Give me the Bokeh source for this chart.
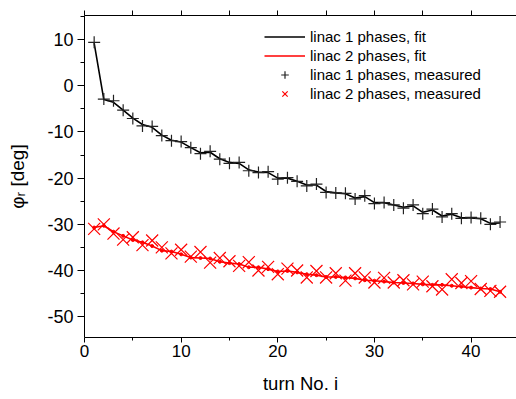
from bokeh.plotting import figure
from bokeh.models import Range1d, LinearAxis, FixedTicker, Legend, LegendItem, ColumnDataSource
from bokeh.embed import file_html
from bokeh.resources import INLINE

turns = [1, 2, 3, 4, 5, 6, 7, 8, 9, 10, 11, 12, 13, 14, 15, 16, 17, 18, 19, 20, 21, 22,
         23, 24, 25, 26, 27, 28, 29, 30, 31, 32, 33, 34, 35, 36, 37, 38, 39, 40, 41, 42, 43]

linac1_measured = [9.4, -2.9, -3.25, -5.3, -7.1, -8.7, -8.8, -10.8, -11.9, -12.1,
                   -13.4, -14.7, -14.2, -15.9, -16.8, -16.6, -18.4, -18.8, -18.6, -20.2,
                   -19.9, -20.7, -21.7, -21.3, -23.1, -23.2, -23.3, -24.5, -23.8, -25.5,
                   -25.3, -25.8, -26.5, -25.8, -27.7, -26.7, -28.4, -27.7, -28.7, -28.5,
                   -28.7, -30.0, -29.5]
linac1_fit = [9.2, -3.0, -3.6, -5.3, -7.0, -8.4, -9.0, -10.7, -11.8, -12.2,
              -13.4, -14.5, -14.4, -15.8, -16.6, -16.8, -18.2, -18.7, -18.8, -20.0,
              -20.0, -20.7, -21.5, -21.5, -22.9, -23.2, -23.4, -24.3, -24.0, -25.3,
              -25.3, -25.8, -26.3, -26.0, -27.4, -26.9, -28.2, -27.8, -28.6, -28.6,
              -28.8, -29.8, -29.7]
linac2_measured = [-31.0, -30.0, -32.0, -33.3, -32.8, -34.5, -33.5, -35.0, -36.3, -35.5,
                   -37.0, -36.0, -38.3, -37.3, -38.0, -39.0, -38.2, -40.0, -39.2, -40.8,
                   -39.6, -40.0, -41.5, -40.1, -41.5, -40.6, -42.2, -40.6, -41.5, -42.6,
                   -41.6, -42.6, -42.1, -43.0, -42.4, -43.4, -44.1, -41.9, -42.7, -42.3,
                   -44.0, -44.4, -44.6]
linac2_fit = [-30.7, -30.3, -31.6, -32.5, -33.4, -33.9, -34.7, -35.7, -35.9, -36.5,
              -37.2, -37.3, -37.4, -38.1, -38.4, -38.6, -39.3, -39.3, -39.7, -40.2,
              -40.1, -40.4, -40.8, -41.0, -41.4, -41.4, -41.5, -41.7, -42.1, -42.2,
              -42.4, -42.6, -42.7, -42.8, -43.0, -43.1, -43.1, -43.3, -43.5, -43.7,
              -43.9, -44.0, -44.6]

y_major = [-50, -40, -30, -20, -10, 0, 10]
y_minor = [-55, -45, -35, -25, -15, -5, 5, 15]
x_major = [0, 10, 20, 30, 40]
x_minor = [5, 15, 25, 35]
top_ticks = [0, 5, 10, 15, 20, 25, 30, 35, 40]
legend_labels = ["linac 1 phases, fit", "linac 2 phases, fit",
                 "linac 1 phases, measured", "linac 2 phases, measured"]

FONT = "Liberation Sans"

src = ColumnDataSource(dict(t=turns, m1=linac1_measured, f1=linac1_fit,
                            m2=linac2_measured, f2=linac2_fit))

p = figure(width=516, height=399, output_backend="svg", toolbar_location=None,
           x_range=Range1d(0, 44.7), y_range=Range1d(-54.5, 15.2),
           min_border_left=84, min_border_right=0, min_border_top=15, min_border_bottom=62)
p.outline_line_color = None
p.grid.visible = False
p.background_fill_color = "white"
p.border_fill_color = "white"

r_f1 = p.line("t", "f1", source=src, line_color="black", line_width=1.6)
r_f2 = p.line("t", "f2", source=src, line_color="#ff0000", line_width=1.6)
p.scatter("t", "f2", source=src, marker="circle", size=3, color="#ff0000")
r_m1 = p.scatter("t", "m1", source=src, marker="cross", size=12, line_color="#222222", line_width=1.2)
r_m2 = p.scatter("t", "m2", source=src, marker="x", size=17, line_color="#ff0000", line_width=1.2)

# axes
xa = p.xaxis[0]
xa.ticker = FixedTicker(ticks=x_major, minor_ticks=x_minor)
ya = p.yaxis[0]
ya.ticker = FixedTicker(ticks=y_major, minor_ticks=y_minor)
ya.major_label_overrides = {v: str(v) for v in y_major}
for ax in (xa, ya):
    ax.axis_line_color = "black"
    ax.major_tick_line_color = "black"
    ax.minor_tick_line_color = "black"
    ax.major_tick_in = 0
    ax.minor_tick_in = 0
    ax.major_label_text_font = FONT
    ax.axis_label_text_font = FONT
    ax.axis_label_text_font_style = "normal"
    ax.major_label_text_color = "black"
    ax.axis_label_text_color = "black"

xa.major_tick_out = 5
xa.minor_tick_out = 3
xa.major_label_text_font_size = "17px"
xa.major_label_standoff = 2
xa.axis_label = "turn No. i"
xa.axis_label_text_font_size = "18.5px"
xa.axis_label_standoff = 13

ya.major_tick_out = 7
ya.minor_tick_out = 4
ya.major_label_text_font_size = "18px"
ya.major_label_standoff = 4
ya.axis_label = "φᵣ [deg]"
ya.axis_label_text_font_size = "19px"
ya.axis_label_standoff = 16

top = LinearAxis(ticker=FixedTicker(ticks=top_ticks, minor_ticks=[]))
top.axis_line_color = "black"
top.major_tick_line_color = "black"
top.major_tick_in = 0
top.major_tick_out = 5
top.major_label_standoff = 0
top.major_label_text_font_size = "1px"
top.major_label_overrides = {v: " " for v in top_ticks}
p.add_layout(top, "above")

legend = Legend(items=[LegendItem(label=legend_labels[0], renderers=[r_f1]),
                       LegendItem(label=legend_labels[1], renderers=[r_f2]),
                       LegendItem(label=legend_labels[2], renderers=[r_m1]),
                       LegendItem(label=legend_labels[3], renderers=[r_m2])],
                location=(180, 234))
legend.border_line_color = None
legend.background_fill_alpha = 0
legend.padding = 0
legend.margin = 0
legend.spacing = 0
legend.glyph_width = 41
legend.glyph_height = 19
legend.label_height = 19
legend.label_standoff = 5
legend.label_text_font = FONT
legend.label_text_font_size = "15px"
legend.label_text_color = "black"
p.add_layout(legend)

open("out.html", "w").write(file_html(p, INLINE))
